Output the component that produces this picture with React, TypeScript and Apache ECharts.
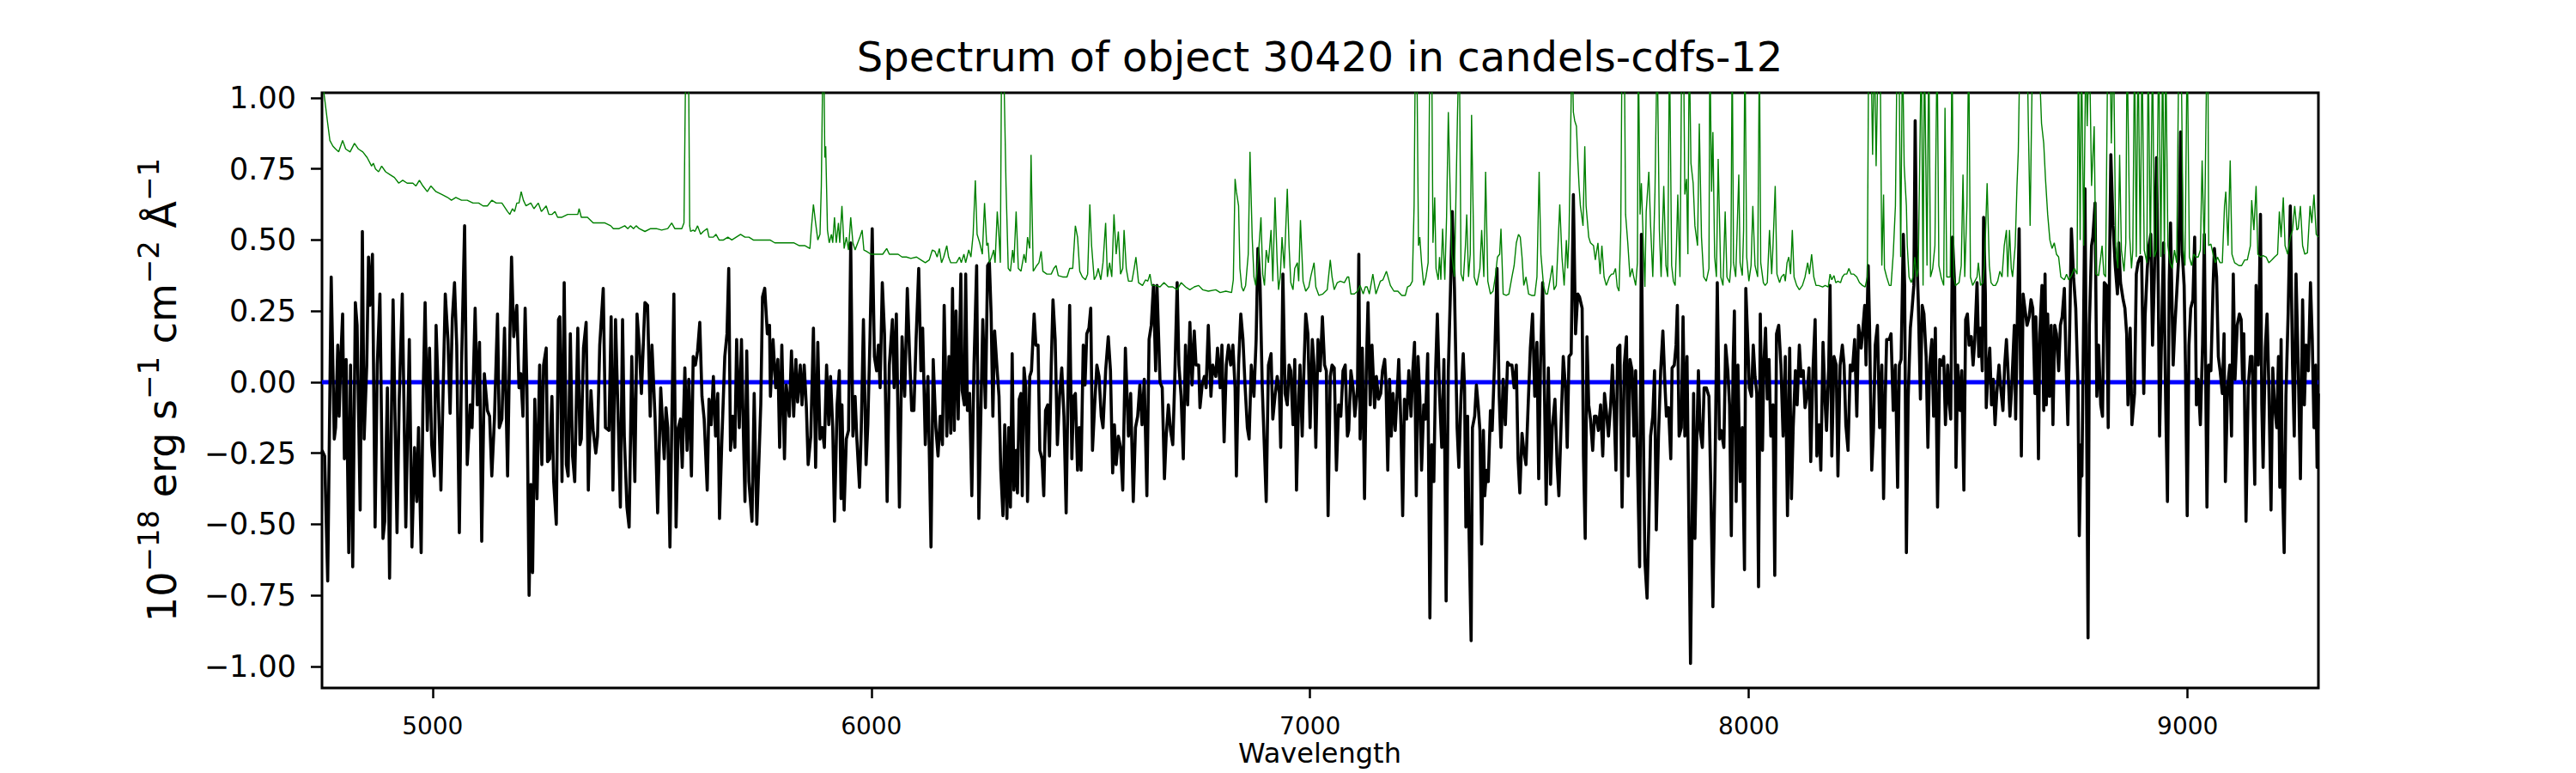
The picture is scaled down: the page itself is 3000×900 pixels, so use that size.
import React, { useEffect, useRef } from "react";
import * as echarts from "echarts";

const TITLE = "Spectrum of object 30420 in candels-cdfs-12";
const X_LABEL = "Wavelength";
const X_TICKS = [5000, 6000, 7000, 8000, 9000];
const Y_TICKS = [-1, -0.75, -0.5, -0.25, 0, 0.25, 0.5, 0.75, 1];
const X_RANGE = [4748, 9298];
const Y_RANGE = [-1.076, 1.018];
const zeroLevel = [[4748, 0], [9298, 0]];

const fluxA = [[4748,-0.24],[4754,-0.26],[4761,-0.70],[4769,0.37],[4776,-0.20],[4779,-0.16],[4784,0.13],[4787,-0.12],[4791,0.09],[4795,0.24],[4799,-0.27],[4803,0.08],[4809,-0.60],[4813,0.06],[4818,-0.65],[4824,0.28],[4828,0.20],[4835,-0.45],[4840,0.53],[4844,-0.20],[4850,0.06],[4854,0.44],[4857,0.27],[4863,0.45],[4869,-0.51],[4874,0.06],[4880,0.31],[4887,-0.55],[4891,-0.49],[4897,-0.02],[4902,-0.69],[4906,-0.15],[4910,0.29],[4915,-0.17],[4919,-0.53],[4924,-0.06],[4931,0.31],[4939,-0.51],[4947,0.15],[4953,-0.58],[4959,-0.23],[4964,-0.42],[4968,-0.16],[4974,-0.60],[4978,-0.08],[4983,0.28],[4988,-0.17],[4993,0.12],[4998,-0.22],[5004,-0.33],[5008,0.20],[5013,-0.04],[5019,-0.38],[5029,0.31],[5035,0.15],[5040,-0.11],[5045,0.22],[5050,0.35],[5055,0.13],[5061,-0.53],[5066,0.06],[5073,0.55],[5079,-0.29],[5086,-0.08],[5090,-0.16],[5097,0.26],[5102,-0.08],[5107,0.14],[5112,-0.56],[5118,0.03],[5125,-0.10],[5130,-0.12],[5135,-0.33],[5141,-0.13],[5148,0.24],[5152,-0.16],[5158,-0.13],[5164,0.19],[5171,-0.33],[5176,0.15],[5180,0.44],[5185,0.16],[5192,0.27],[5197,-0.02],[5201,0.03],[5206,-0.12],[5211,0.26],[5215,-0.02],[5220,-0.75],[5224,-0.36],[5228,-0.67],[5233,-0.06],[5238,-0.41],[5244,0.06],[5249,-0.29],[5253,0.06],[5259,0.12],[5262,-0.28],[5267,-0.27],[5272,-0.05],[5276,-0.35],[5282,-0.50],[5287,0.22],[5290,0.23],[5295,-0.35],[5300,0.35],[5305,-0.29],[5309,-0.33],[5314,0.17],[5319,-0.26],[5324,-0.35],[5331,0.19],[5336,-0.22],[5339,-0.20],[5344,0.12],[5350,0.21],[5355,-0.38],[5361,-0.03],[5366,-0.17],[5372,-0.25],[5376,-0.19],[5381,0.13],[5389,0.33],[5394,-0.16],[5402,-0.17],[5407,0.23],[5411,-0.38],[5417,0.22],[5424,-0.19],[5428,-0.44],[5433,0.22],[5437,-0.19],[5443,-0.44],[5448,-0.51],[5454,0.09],[5461,-0.35],[5466,0.24],[5471,0.13],[5476,-0.04],[5484,0.28],[5490,0.27],[5496,-0.12],[5500,0.13],[5507,-0.12],[5513,-0.46],[5520,-0.02]];

const fluxB = [[5522,-0.08],[5528,-0.27],[5532,-0.09],[5536,-0.16],[5541,-0.58],[5545,-0.17],[5550,0.31],[5555,-0.51],[5560,-0.16],[5565,-0.13],[5569,-0.30],[5575,0.05],[5580,-0.24],[5584,0.01],[5590,-0.33],[5594,0.09],[5599,0.06],[5604,0.11],[5609,0.21],[5614,-0.05],[5619,-0.13],[5626,-0.38],[5630,-0.06],[5635,-0.15],[5640,0.02],[5645,-0.19],[5650,-0.04],[5654,-0.48],[5659,-0.22],[5666,0.09],[5671,0.17],[5675,0.40],[5679,-0.24],[5684,-0.12],[5689,-0.23],[5693,0.15],[5699,-0.16],[5704,0.15],[5708,-0.15],[5712,-0.42],[5716,0.11],[5721,-0.35],[5728,-0.49],[5733,-0.04],[5739,-0.50],[5748,-0.08],[5752,0.30],[5757,0.33],[5763,0.17],[5768,0.20],[5770,-0.05],[5776,0.15],[5782,-0.02],[5787,0.08],[5791,-0.23],[5796,0.13],[5802,-0.27],[5806,-0.01],[5813,-0.12],[5818,0.11],[5823,-0.12],[5828,0.08],[5832,-0.07],[5838,0.06],[5842,-0.08],[5847,0.06],[5852,-0.09],[5856,-0.29],[5862,-0.19],[5868,0.19],[5873,-0.30],[5878,0.14],[5883,-0.20],[5888,-0.16],[5893,-0.23],[5898,0.06],[5903,-0.15],[5907,0.02],[5912,-0.16],[5916,-0.49],[5922,-0.08],[5927,0.04],[5931,-0.41],[5933,-0.08],[5938,-0.45],[5943,-0.20],[5948,-0.17],[5953,0.49],[5958,-0.19],[5963,-0.05],[5967,-0.20],[5973,-0.37],[5977,-0.17],[5982,0.22],[5988,-0.29],[5992,-0.15],[5997,0.16],[6002,0.54],[6007,0.09],[6012,0.04],[6016,0.13],[6020,-0.02],[6025,0.35],[6030,0.17],[6036,-0.42],[6041,0.06],[6048,0.22],[6052,-0.02],[6057,0.24],[6064,-0.44],[6070,0.16],[6076,-0.05],[6082,0.33],[6087,0.10],[6092,-0.10],[6097,-0.10],[6102,0.15],[6108,0.40],[6113,0.04],[6117,0.19],[6123,-0.22],[6129,0.02],[6136,-0.58],[6141,0.08],[6147,-0.16],[6152,-0.26],[6157,-0.12],[6162,-0.22],[6166,0.27],[6172,-0.19],[6177,0.09],[6181,-0.18],[6185,0.33],[6189,-0.17],[6193,0.25],[6198,-0.13],[6204,0.38],[6207,-0.03],[6212,-0.08],[6215,0.38],[6219,-0.10],[6224,-0.04],[6229,-0.40],[6234,0.06],[6240,0.41],[6245,-0.48],[6250,-0.08],[6254,0.22],[6260,-0.09],[6265,0.41],[6269,0.42],[6273,0.24],[6277,-0.12],[6281,0.18],[6286,0.06],[6291,-0.05],[6295,-0.31],[6300,-0.47],[6304,-0.15]];

const fluxC = [[6309,-0.48],[6313,-0.16],[6317,-0.44],[6321,0.10],[6325,-0.38],[6330,-0.24],[6333,-0.39],[6337,-0.06],[6341,-0.04],[6344,-0.40],[6348,0.05],[6352,-0.02],[6356,-0.42],[6361,0.02],[6365,0.04],[6371,0.24],[6375,0.13],[6380,0.13],[6384,-0.24],[6389,-0.27],[6393,-0.40],[6397,-0.10],[6402,-0.08],[6406,-0.26],[6410,0.06],[6414,0.29],[6419,0.15],[6424,-0.22],[6429,-0.05],[6434,0.05],[6439,-0.12],[6444,-0.46],[6448,-0.05],[6452,0.27],[6457,-0.27],[6461,-0.05],[6465,-0.04],[6470,-0.31],[6474,-0.16],[6478,-0.31],[6483,0.13],[6487,-0.01],[6491,0.17],[6496,0.19],[6500,0.26],[6504,-0.24],[6509,-0.08],[6514,0.06],[6519,0.02],[6524,-0.12],[6528,-0.16],[6534,0.04],[6540,0.16],[6545,0.04],[6550,-0.32],[6554,-0.15],[6558,-0.29],[6563,-0.19],[6568,-0.23],[6573,-0.38],[6579,0.12],[6586,-0.19],[6591,-0.04],[6597,-0.42],[6602,-0.16],[6607,-0.12],[6612,-0.01],[6617,-0.15],[6622,0.01],[6628,-0.40],[6633,0.15],[6638,0.20],[6643,0.34],[6648,0.04],[6651,0.34],[6658,0.00],[6663,-0.02],[6668,-0.34],[6672,-0.19],[6677,-0.08],[6682,-0.17],[6687,-0.22],[6691,-0.02],[6697,0.35],[6701,0.06],[6706,-0.05],[6711,-0.27],[6716,0.13],[6721,-0.08],[6726,0.21],[6731,-0.01],[6736,0.18],[6740,0.06],[6746,0.06],[6749,-0.09],[6754,-0.01],[6759,0.02],[6763,-0.02],[6768,0.20],[6774,-0.05],[6778,0.06],[6785,0.02],[6789,0.12],[6795,-0.02],[6799,0.13],[6804,-0.21],[6809,0.06],[6814,0.13],[6819,0.06],[6824,0.13],[6829,-0.02],[6832,-0.33],[6837,0.06],[6842,0.24],[6847,0.15],[6852,-0.02],[6857,-0.16],[6861,-0.20],[6866,0.06],[6872,-0.05],[6877,0.15],[6881,0.47],[6886,0.34],[6891,-0.02],[6896,-0.24],[6900,-0.42],[6905,0.06],[6911,0.10],[6915,-0.13],[6920,-0.05],[6925,0.02],[6930,-0.04],[6933,-0.23],[6938,0.38],[6943,-0.04],[6948,-0.08],[6952,0.06],[6956,0.04],[6961,-0.15],[6965,0.08],[6969,-0.38],[6974,-0.05],[6977,0.06],[6982,-0.19],[6986,0.05],[6990,0.24],[6995,0.17],[7000,-0.16],[7005,0.15],[7009,0.06],[7013,-0.23],[7018,0.15],[7023,0.04],[7028,0.23],[7033,0.06],[7037,0.04],[7041,-0.47],[7046,0.02],[7050,0.06],[7055,0.05],[7060,-0.31],[7065,-0.08],[7070,-0.12],[7075,0.04],[7080,0.06],[7085,-0.19]];

const fluxD = [[7088,-0.17],[7093,0.04],[7098,-0.02],[7102,-0.12],[7108,-0.02],[7111,0.45],[7114,-0.20],[7119,0.12],[7124,-0.41],[7128,0.04],[7132,0.28],[7137,-0.08],[7141,0.13],[7147,-0.09],[7151,0.02],[7156,-0.06],[7161,-0.04],[7165,0.04],[7170,0.08],[7173,-0.01],[7177,-0.31],[7181,0.01],[7185,-0.19],[7189,-0.04],[7194,-0.17],[7198,-0.05],[7202,0.08],[7207,-0.15],[7211,-0.47],[7215,-0.06],[7220,-0.13],[7225,0.04],[7230,-0.12],[7234,0.04],[7238,0.14],[7242,-0.40],[7246,0.09],[7250,-0.05],[7254,-0.31],[7259,-0.08],[7263,-0.13],[7268,0.10],[7273,-0.83],[7277,-0.22],[7282,-0.35],[7286,0.04],[7290,0.24],[7295,-0.04],[7300,-0.23],[7305,0.08],[7310,-0.77],[7315,0.04],[7320,0.33],[7324,0.60],[7329,0.33],[7335,-0.16],[7339,-0.30],[7344,-0.05],[7349,0.10],[7352,-0.02],[7355,-0.51],[7359,-0.12],[7362,-0.51],[7367,-0.91],[7370,-0.16],[7375,-0.12],[7379,-0.01],[7383,-0.08],[7387,-0.17],[7391,-0.57],[7395,-0.17],[7398,-0.40],[7402,-0.31],[7406,-0.35],[7411,-0.10],[7415,-0.17],[7421,0.10],[7426,0.40],[7431,-0.05],[7435,-0.23],[7440,0.01],[7445,-0.15],[7450,0.07],[7455,0.06],[7460,0.06],[7465,-0.02],[7470,0.06],[7474,-0.27],[7478,-0.39],[7483,-0.18],[7487,-0.24],[7492,-0.29],[7497,-0.08],[7502,0.12],[7507,0.24],[7512,-0.05],[7517,0.14],[7521,-0.34],[7525,0.06],[7530,0.35],[7534,-0.02],[7538,-0.43],[7543,0.05],[7548,-0.36],[7552,-0.16],[7558,-0.06],[7563,-0.29],[7567,-0.40],[7572,-0.15],[7577,0.09],[7582,-0.02],[7586,-0.23],[7590,0.09],[7595,0.10],[7600,0.66],[7605,0.17],[7610,0.31],[7614,0.30],[7620,0.26],[7623,-0.26],[7627,-0.55],[7631,0.16],[7635,-0.08],[7639,-0.13],[7644,-0.24],[7648,-0.12],[7652,-0.12],[7657,-0.17],[7662,-0.08],[7667,-0.26],[7671,-0.04],[7675,-0.10],[7680,-0.19],[7685,-0.08],[7689,0.06],[7693,-0.10],[7697,-0.31],[7701,0.12],[7706,0.13],[7711,-0.44],[7716,0.06],[7721,0.16],[7725,-0.33],[7729,0.08],[7734,0.04],[7738,-0.19],[7742,0.04],[7747,-0.35],[7751,-0.65],[7755,0.52],[7759,-0.10],[7763,-0.63],[7768,-0.76],[7772,-0.49],[7776,-0.19],[7781,-0.12],[7785,0.04],[7789,-0.52],[7794,-0.19],[7799,0.04],[7804,0.18],[7809,-0.02],[7812,-0.12],[7817,-0.09],[7822,-0.27],[7825,0.05],[7830,0.06],[7834,0.13],[7837,0.27],[7841,-0.19],[7846,-0.16],[7850,0.23],[7854,-0.19],[7859,0.09],[7867,-0.99]];

const fluxE = [[7874,-0.04],[7877,-0.55],[7881,-0.22],[7885,0.04],[7889,-0.17],[7894,-0.23],[7898,-0.02],[7903,-0.02],[7909,-0.05],[7913,-0.35],[7918,-0.79],[7923,-0.29],[7928,0.35],[7933,-0.20],[7937,-0.17],[7943,-0.23],[7947,0.13],[7952,0.04],[7956,-0.08],[7960,-0.54],[7964,0.06],[7967,0.25],[7971,-0.42],[7975,0.06],[7980,-0.35],[7985,-0.16],[7990,-0.66],[7993,0.33],[7998,0.12],[8001,-0.02],[8006,-0.05],[8010,0.13],[8014,0.02],[8018,-0.04],[8022,-0.72],[8026,0.24],[8031,-0.24],[8034,0.06],[8038,0.19],[8042,-0.06],[8046,0.08],[8050,-0.19],[8055,-0.08],[8059,-0.68],[8063,0.17],[8068,0.20],[8073,0.06],[8078,-0.19],[8083,0.09],[8088,-0.47],[8093,0.12],[8097,-0.41],[8101,-0.16],[8106,0.04],[8110,-0.08],[8115,0.13],[8119,0.02],[8124,0.04],[8128,-0.09],[8133,-0.04],[8137,0.05],[8141,-0.28],[8146,0.04],[8151,0.22],[8155,-0.26],[8160,-0.15],[8164,-0.31],[8169,0.14],[8174,-0.08],[8177,-0.17],[8182,0.06],[8185,0.34],[8189,-0.26],[8194,0.09],[8199,0.06],[8203,-0.33],[8208,0.06],[8213,0.13],[8217,0.06],[8221,-0.15],[8226,-0.24],[8231,0.06],[8236,0.04],[8241,0.15],[8246,-0.12],[8250,0.20],[8256,0.12],[8260,0.19],[8264,0.27],[8267,0.06],[8272,0.41],[8275,0.20],[8280,-0.31],[8284,-0.17],[8288,0.13],[8293,0.20],[8298,-0.16],[8303,0.06],[8307,-0.41],[8311,-0.04],[8314,0.15],[8320,0.15],[8324,0.17],[8329,-0.10],[8334,0.06],[8339,-0.37],[8343,0.06],[8347,0.08],[8352,0.52],[8355,0.34],[8359,-0.60],[8363,-0.06],[8368,0.19],[8372,0.26],[8376,0.34],[8379,0.92],[8382,0.48],[8386,0.29],[8391,-0.06],[8395,0.27],[8399,0.24],[8404,0.09],[8408,-0.23],[8412,0.06],[8417,0.15],[8421,-0.12],[8425,0.19],[8430,-0.44],[8435,0.08],[8440,0.06],[8444,0.09],[8448,-0.15],[8453,0.06],[8457,-0.08],[8460,-0.13],[8464,0.51],[8469,0.34],[8472,-0.30],[8476,0.06],[8481,-0.10],[8485,0.04],[8490,-0.38],[8494,0.22],[8498,0.24],[8502,0.13],[8507,0.16],[8511,0.06],[8515,0.15],[8520,0.35],[8524,0.09],[8528,0.19],[8532,0.04],[8535,0.58],[8539,0.31],[8541,-0.09],[8546,0.06],[8549,0.12],[8553,-0.08],[8557,0.01],[8561,-0.15],[8565,-0.04],[8570,0.06],[8574,-0.02],[8579,-0.10],[8583,0.06],[8587,0.15],[8590,0.06],[8595,-0.12],[8599,-0.02],[8605,0.20],[8608,-0.13],[8612,0.23],[8616,0.54],[8621,-0.26],[8625,0.31],[8629,0.26],[8634,0.20],[8639,0.23],[8643,0.29],[8647,0.26],[8652,-0.04]];

const fluxF = [[8654,0.23],[8657,0.06],[8660,-0.27],[8663,0.17],[8668,0.34],[8672,-0.10],[8675,0.38],[8678,-0.08],[8681,0.24],[8685,-0.05],[8689,0.20],[8693,-0.15],[8697,0.20],[8701,0.17],[8706,0.04],[8710,0.20],[8714,0.23],[8719,0.33],[8723,0.06],[8727,-0.15],[8732,0.26],[8735,0.54],[8740,0.37],[8745,0.26],[8750,-0.01],[8753,-0.54],[8757,-0.22],[8759,-0.33],[8763,0.23],[8766,0.68],[8770,-0.19],[8773,-0.90],[8776,0.20],[8781,0.48],[8784,0.51],[8789,0.63],[8793,-0.05],[8797,0.13],[8802,-0.08],[8806,-0.12],[8810,0.35],[8815,0.34],[8819,-0.16],[8822,0.41],[8825,0.80],[8830,0.55],[8835,0.41],[8840,0.31],[8843,0.49],[8847,0.35],[8853,0.29],[8857,0.26],[8861,0.17],[8864,-0.08],[8869,0.19],[8873,-0.15],[8879,-0.04],[8883,0.38],[8887,0.42],[8892,0.44],[8895,0.44],[8900,-0.04],[8903,0.23],[8908,0.40],[8912,0.48],[8916,0.52],[8920,0.13],[8924,0.37],[8929,0.79],[8933,0.34],[8936,-0.19],[8941,0.20],[8945,0.49],[8950,-0.08],[8954,-0.42],[8958,0.35],[8961,0.56],[8967,0.06],[8971,0.20],[8975,0.31],[8980,0.45],[8984,0.88],[8988,0.45],[8992,0.34],[8995,0.06],[8999,-0.47],[9003,0.13],[9007,0.26],[9012,0.29],[9016,0.51],[9020,-0.08],[9024,0.01],[9029,-0.15],[9034,0.13],[9038,0.52],[9044,-0.44],[9048,0.06],[9053,0.04],[9058,0.34],[9061,0.47],[9066,0.37],[9070,0.09],[9074,0.04],[9079,-0.04],[9083,0.17],[9086,-0.35],[9091,-0.02],[9096,0.06],[9100,-0.19],[9104,0.38],[9108,0.01],[9113,0.20],[9118,0.24],[9122,0.22],[9125,0.01],[9128,0.17],[9133,-0.49],[9138,-0.02],[9143,0.09],[9147,0.09],[9153,-0.36],[9156,0.34],[9161,0.06],[9166,0.59],[9169,-0.08],[9172,-0.30],[9177,0.12],[9181,0.24],[9185,-0.01],[9190,-0.45],[9194,0.05],[9198,-0.08],[9203,-0.16],[9207,0.09],[9210,-0.37],[9213,0.15],[9216,-0.35],[9220,-0.60],[9224,-0.05],[9229,0.24],[9234,0.62],[9239,0.06],[9243,-0.19],[9247,0.38],[9252,0.06],[9257,-0.34],[9262,0.29],[9266,-0.08],[9270,0.13],[9275,0.04],[9280,0.35],[9284,0.15],[9288,-0.16],[9292,0.06],[9295,-0.30],[9298,-0.04]];

const errA = [[4748,1.10],[4753,1.01],[4761,0.91],[4766,0.85],[4773,0.83],[4779,0.82],[4786,0.81],[4795,0.85],[4802,0.82],[4812,0.81],[4822,0.84],[4831,0.82],[4841,0.81],[4851,0.79],[4861,0.76],[4865,0.77],[4870,0.75],[4877,0.74],[4884,0.76],[4893,0.74],[4903,0.73],[4913,0.72],[4923,0.70],[4932,0.71],[4942,0.70],[4955,0.70],[4962,0.69],[4970,0.71],[4978,0.69],[4988,0.67],[4996,0.69],[5008,0.67],[5021,0.66],[5034,0.65],[5043,0.64],[5053,0.65],[5066,0.64],[5079,0.64],[5092,0.63],[5105,0.63],[5115,0.62],[5125,0.62],[5135,0.64],[5145,0.63],[5158,0.63],[5171,0.60],[5176,0.59],[5182,0.61],[5187,0.60],[5192,0.63],[5197,0.63],[5202,0.67],[5207,0.64],[5213,0.62],[5224,0.63],[5231,0.61],[5241,0.63],[5248,0.60],[5259,0.62],[5265,0.59],[5272,0.59],[5279,0.60],[5285,0.58],[5295,0.58],[5308,0.59],[5321,0.59],[5331,0.59],[5334,0.61],[5339,0.58],[5353,0.58],[5366,0.56],[5379,0.56],[5393,0.56],[5406,0.55],[5412,0.54],[5425,0.54],[5438,0.55],[5445,0.54],[5451,0.55],[5458,0.54],[5464,0.55],[5471,0.54],[5484,0.53],[5497,0.54],[5510,0.54]];

const errB = [[5522,0.535],[5536,0.54],[5545,0.56],[5552,0.54],[5568,0.54],[5573,0.56],[5576,1.0],[5580,1.3],[5584,1.0],[5586,0.55],[5588,0.53],[5594,0.535],[5598,0.53],[5604,0.55],[5611,0.52],[5617,0.53],[5626,0.54],[5630,0.51],[5640,0.51],[5646,0.52],[5653,0.50],[5663,0.50],[5673,0.51],[5682,0.50],[5692,0.51],[5702,0.52],[5712,0.51],[5721,0.51],[5731,0.50],[5744,0.50],[5757,0.50],[5769,0.50],[5780,0.49],[5796,0.49],[5809,0.49],[5823,0.49],[5836,0.48],[5849,0.48],[5860,0.47],[5863,0.535],[5868,0.625],[5873,0.56],[5878,0.50],[5883,0.52],[5886,0.69],[5890,1.2],[5892,1.1],[5894,0.79],[5896,0.83],[5900,0.535],[5904,0.49],[5909,0.52],[5912,0.49],[5916,0.58],[5920,0.49],[5925,0.56],[5928,0.49],[5933,0.62],[5938,0.47],[5943,0.51],[5948,0.465],[5953,0.58],[5958,0.49],[5963,0.465],[5969,0.49],[5974,0.51],[5979,0.535],[5983,0.465],[5989,0.46],[5999,0.45],[6008,0.45],[6018,0.45],[6026,0.45],[6035,0.47],[6041,0.45],[6051,0.45],[6061,0.45],[6070,0.44],[6080,0.44],[6090,0.435],[6103,0.44],[6113,0.43],[6123,0.42],[6132,0.43],[6139,0.465],[6145,0.46],[6150,0.44],[6155,0.47],[6160,0.42],[6165,0.44],[6172,0.48],[6176,0.44],[6181,0.42],[6188,0.42],[6194,0.42],[6201,0.44],[6205,0.42],[6211,0.45],[6215,0.42],[6222,0.465],[6227,0.44],[6232,0.52],[6237,0.71],[6241,0.52],[6247,0.49],[6253,0.45],[6258,0.63],[6263,0.48],[6266,0.49],[6269,0.42],[6274,0.44],[6279,0.465],[6282,0.42],[6287,0.60],[6291,0.51],[6294,0.42],[6297,1.2],[6302,1.1]];

const errC = [[6307,0.69],[6312,0.40],[6317,0.39],[6322,0.465],[6325,0.42],[6330,0.60],[6335,0.40],[6341,0.39],[6348,0.45],[6352,0.42],[6356,0.51],[6361,0.47],[6364,0.80],[6369,0.39],[6377,0.41],[6382,0.42],[6387,0.46],[6391,0.39],[6400,0.38],[6410,0.38],[6416,0.40],[6421,0.41],[6426,0.375],[6436,0.37],[6446,0.37],[6452,0.40],[6459,0.40],[6465,0.55],[6470,0.51],[6475,0.39],[6481,0.37],[6488,0.36],[6493,0.38],[6498,0.625],[6502,0.48],[6508,0.36],[6513,0.375],[6517,0.40],[6523,0.36],[6528,0.42],[6534,0.56],[6538,0.37],[6543,0.42],[6548,0.37],[6553,0.59],[6558,0.45],[6563,0.53],[6568,0.38],[6573,0.40],[6576,0.535],[6581,0.40],[6586,0.355],[6594,0.355],[6599,0.40],[6603,0.44],[6609,0.35],[6618,0.34],[6625,0.36],[6630,0.355],[6635,0.38],[6639,0.34],[6648,0.34],[6658,0.335],[6667,0.35],[6677,0.335],[6687,0.335],[6697,0.325],[6706,0.35],[6716,0.335],[6726,0.325],[6736,0.335],[6746,0.34],[6755,0.325],[6768,0.32],[6785,0.325],[6795,0.315],[6808,0.32],[6821,0.315],[6825,0.36],[6829,0.715],[6832,0.67],[6837,0.62],[6840,0.40],[6844,0.335],[6848,0.32],[6853,0.34],[6859,0.45],[6863,0.81],[6868,0.51],[6872,0.37],[6876,0.34],[6881,0.42],[6888,0.58],[6892,0.38],[6896,0.34],[6900,0.465],[6905,0.42],[6911,0.535],[6915,0.355],[6920,0.65],[6925,0.42],[6928,0.325],[6932,0.37],[6936,0.51],[6941,0.40],[6948,0.68],[6952,0.48],[6956,0.35],[6961,0.325],[6965,0.40],[6971,0.42],[6974,0.355],[6978,0.57],[6984,0.355],[6990,0.32],[6997,0.335],[7002,0.375],[7009,0.42],[7013,0.335],[7020,0.305],[7029,0.31],[7039,0.325],[7046,0.43],[7050,0.37],[7055,0.325],[7062,0.35],[7069,0.355],[7078,0.35],[7085,0.37]];

const errD = [[7088,0.37],[7093,0.31],[7101,0.31],[7108,0.32],[7114,0.34],[7121,0.31],[7126,0.335],[7130,0.335],[7135,0.31],[7143,0.38],[7150,0.31],[7160,0.355],[7166,0.36],[7174,0.39],[7183,0.34],[7191,0.32],[7200,0.32],[7209,0.305],[7217,0.305],[7222,0.335],[7228,0.34],[7233,0.355],[7237,0.62],[7240,1.2],[7243,1.2],[7247,0.48],[7250,0.51],[7254,0.42],[7259,0.34],[7264,0.37],[7269,0.42],[7273,1.2],[7277,1.2],[7280,0.49],[7284,0.65],[7287,0.40],[7292,0.36],[7295,0.44],[7298,0.36],[7302,0.54],[7307,0.36],[7311,0.58],[7315,0.95],[7320,0.62],[7323,0.45],[7329,0.37],[7336,0.95],[7340,1.2],[7344,0.38],[7349,0.355],[7354,0.48],[7357,0.59],[7361,0.37],[7365,0.45],[7368,0.94],[7374,0.37],[7380,0.34],[7387,0.40],[7391,0.535],[7396,0.37],[7400,0.74],[7405,0.355],[7411,0.31],[7417,0.32],[7422,0.37],[7427,0.44],[7432,0.45],[7435,0.54],[7440,0.31],[7447,0.305],[7453,0.31],[7460,0.37],[7465,0.41],[7470,0.49],[7475,0.52],[7479,0.51],[7483,0.44],[7487,0.34],[7492,0.37],[7498,0.31],[7505,0.305],[7512,0.305],[7517,0.37],[7522,0.74],[7526,0.45],[7532,0.34],[7537,0.31],[7541,0.31],[7548,0.37],[7552,0.41],[7556,0.325],[7561,0.34],[7565,0.48],[7569,0.625],[7574,0.44],[7579,0.34],[7584,0.50],[7587,0.40],[7590,0.51],[7594,0.90],[7597,1.2],[7600,0.95],[7603,0.92],[7607,0.90],[7610,0.785],[7613,0.69],[7616,0.62],[7622,0.55],[7626,0.83],[7629,0.62],[7635,0.51],[7639,0.49],[7646,0.48],[7650,0.43],[7656,0.49],[7661,0.38],[7665,0.48],[7670,0.37],[7675,0.34],[7682,0.37],[7687,0.38],[7691,0.38],[7696,0.40],[7700,0.335],[7704,0.32],[7708,0.535],[7711,1.2],[7716,1.2],[7719,0.59],[7724,0.49],[7729,0.37],[7734,0.40],[7737,0.375],[7742,0.34],[7746,0.42],[7748,1.2],[7752,0.59],[7755,0.70],[7759,0.51],[7763,0.335],[7766,0.60],[7772,0.74],[7776,0.55],[7781,0.37],[7786,0.67],[7791,1.2],[7796,0.535],[7800,0.37],[7806,0.69],[7811,0.41],[7815,0.37],[7819,1.2],[7824,0.41],[7828,0.355],[7832,0.34],[7835,0.48],[7838,0.66],[7843,0.37],[7847,1.2],[7851,1.2],[7854,0.66],[7858,0.715],[7861,0.45],[7864,1.2],[7868,0.77]];

const errE = [[7873,0.70],[7877,0.55],[7883,0.48],[7887,0.91],[7892,0.51],[7897,0.37],[7903,0.355],[7909,0.40],[7911,1.2],[7915,0.67],[7918,0.88],[7922,0.44],[7926,0.37],[7930,0.785],[7933,0.58],[7936,0.37],[7941,0.34],[7946,0.60],[7950,0.37],[7956,0.35],[7959,0.41],[7962,1.2],[7965,0.42],[7970,0.37],[7977,0.73],[7980,0.42],[7985,0.375],[7988,0.535],[7991,1.2],[7995,0.44],[8000,0.355],[8005,0.41],[8009,0.62],[8014,0.41],[8020,0.37],[8024,1.2],[8027,0.42],[8033,0.35],[8037,0.34],[8042,0.35],[8047,0.535],[8052,0.38],[8055,0.48],[8060,0.69],[8064,0.38],[8070,0.35],[8074,0.37],[8080,0.38],[8083,0.355],[8087,0.42],[8091,0.44],[8095,0.38],[8099,0.535],[8103,0.37],[8109,0.34],[8115,0.325],[8122,0.34],[8128,0.37],[8134,0.42],[8138,0.38],[8143,0.45],[8148,0.37],[8153,0.34],[8159,0.34],[8168,0.335],[8174,0.34],[8181,0.335],[8185,0.38],[8189,0.36],[8194,0.375],[8198,0.35],[8203,0.355],[8209,0.35],[8213,0.37],[8218,0.38],[8223,0.38],[8228,0.40],[8233,0.38],[8239,0.38],[8246,0.37],[8252,0.35],[8259,0.34],[8265,0.335],[8270,0.37],[8273,1.2],[8278,1.2],[8282,0.80],[8286,1.2],[8290,0.76],[8295,1.2],[8299,1.2],[8303,0.41],[8307,0.66],[8309,0.40],[8314,0.37],[8320,0.34],[8324,0.34],[8329,0.45],[8334,0.62],[8338,1.2],[8342,1.2],[8346,0.44],[8350,1.2],[8354,0.76],[8359,0.62],[8361,0.48],[8365,0.37],[8370,0.35],[8374,0.37],[8378,0.44],[8383,0.37],[8386,0.40],[8389,0.73],[8393,1.2],[8397,0.34],[8400,1.2],[8406,0.41],[8410,1.2],[8414,0.37],[8419,0.40],[8424,0.48],[8429,1.2],[8433,0.41],[8438,0.37],[8444,0.34],[8447,0.965],[8451,0.37],[8459,0.37],[8463,1.2],[8467,0.37],[8471,0.34],[8479,0.35],[8484,0.41],[8488,0.73],[8492,0.37],[8497,0.62],[8501,1.2],[8505,0.37],[8510,0.34],[8515,0.355],[8520,0.37],[8523,0.42],[8528,0.34],[8533,0.35],[8537,0.41],[8543,0.70],[8548,0.41],[8552,0.35],[8557,0.34],[8562,0.34],[8567,0.355],[8572,0.39],[8577,0.37],[8582,0.48],[8587,0.535],[8590,0.37],[8594,0.535],[8598,0.40],[8601,0.37],[8607,0.48],[8611,0.69],[8614,0.81],[8618,1.2],[8634,1.2],[8637,0.90],[8641,0.55],[8644,0.90],[8647,1.2],[8652,1.2]];

const errF = [[8660,1.2],[8667,0.91],[8672,0.84],[8676,0.715],[8681,0.59],[8686,0.50],[8691,0.47],[8696,0.49],[8701,0.45],[8706,0.44],[8711,0.37],[8719,0.36],[8724,0.38],[8729,0.36],[8735,0.375],[8742,0.40],[8748,0.38],[8751,1.2],[8755,0.5],[8758,1.2],[8763,0.48],[8768,1.2],[8771,0.90],[8776,1.2],[8781,0.69],[8787,0.90],[8791,0.38],[8797,0.375],[8805,0.48],[8809,0.38],[8813,0.37],[8818,1.2],[8823,1.2],[8826,0.84],[8831,1.2],[8836,0.48],[8841,0.40],[8845,0.80],[8849,0.465],[8855,0.39],[8859,0.49],[8862,1.2],[8868,0.51],[8872,0.40],[8875,0.465],[8879,1.2],[8883,0.44],[8887,1.2],[8892,0.45],[8896,1.2],[8901,0.465],[8907,0.42],[8910,1.2],[8915,0.44],[8920,1.2],[8924,0.44],[8929,0.465],[8934,1.2],[8939,0.44],[8943,1.2],[8947,0.45],[8950,1.2],[8955,0.48],[8960,0.42],[8965,0.40],[8970,0.465],[8975,0.42],[8980,1.2],[8985,1.2],[8990,0.465],[8994,0.41],[8999,1.2],[9004,0.44],[9009,0.41],[9014,0.45],[9019,0.44],[9024,0.44],[9029,0.465],[9033,0.78],[9038,0.45],[9044,1.2],[9046,1.2],[9048,0.48],[9053,0.486],[9058,0.45],[9063,0.42],[9068,0.44],[9074,0.42],[9079,0.42],[9084,0.62],[9087,0.67],[9092,0.48],[9097,0.78],[9101,0.45],[9107,0.42],[9117,0.41],[9123,0.41],[9130,0.43],[9136,0.43],[9143,0.48],[9146,0.64],[9151,0.535],[9156,0.69],[9160,0.45],[9166,0.44],[9172,0.445],[9179,0.44],[9185,0.42],[9192,0.43],[9198,0.44],[9205,0.45],[9209,0.60],[9213,0.51],[9218,0.65],[9222,0.48],[9228,0.45],[9234,0.51],[9239,0.535],[9244,0.62],[9249,0.535],[9252,0.54],[9257,0.62],[9262,0.48],[9267,0.45],[9273,0.455],[9279,0.62],[9283,0.56],[9288,0.66],[9293,0.52],[9298,0.51]];

const FONT = "DejaVu Sans";

function fmtY(v: number): string {
  const s = Math.abs(v).toFixed(2);
  return v < 0 ? "\u2212" + s : s;
}

export default function App() {
  const ref = useRef<HTMLDivElement>(null);
  useEffect(() => {
    if (!ref.current) return;
    const chart = echarts.init(ref.current, null, { renderer: "svg" });
    const flux = [...fluxA, ...fluxB, ...fluxC, ...fluxD, ...fluxE, ...fluxF];
    const err = [...errA, ...errB, ...errC, ...errD, ...errE, ...errF];
    chart.setOption({
      animation: false,
      backgroundColor: "#ffffff",
      textStyle: { fontFamily: FONT },
      grid: {
        left: 375, right: 300, top: 108, bottom: 99,
        show: true, borderColor: "#000", borderWidth: 3, backgroundColor: "transparent",
      },
      xAxis: {
        type: "value", min: X_RANGE[0], max: X_RANGE[1],
        axisLine: { show: false, onZero: false },
        splitLine: { show: false },
        axisTick: { show: true, length: 12, lineStyle: { color: "#000", width: 2.5 }, customValues: X_TICKS },
        axisLabel: { customValues: X_TICKS, fontSize: 28, lineHeight: 26, color: "#000", fontFamily: FONT, margin: 31, formatter: (v: number) => String(v) },
      },
      yAxis: {
        type: "value", min: Y_RANGE[0], max: Y_RANGE[1],
        axisLine: { show: false, onZero: false },
        splitLine: { show: false },
        axisTick: { show: true, length: 13, lineStyle: { color: "#000", width: 2.5 }, customValues: Y_TICKS },
        axisLabel: { customValues: Y_TICKS, fontSize: 35, color: "#000", fontFamily: FONT, margin: 30, formatter: (v: number) => fmtY(v) },
      },
      series: [
        { type: "line", data: zeroLevel, symbol: "none", silent: true, z: 1, lineStyle: { color: "#0000ff", width: 5 } },
        { type: "line", data: flux, symbol: "none", silent: true, z: 2, lineStyle: { color: "#000000", width: 3.6, join: "round" } },
        { type: "line", data: err, symbol: "none", silent: true, z: 3, lineStyle: { color: "#008000", width: 1.4 } },
      ],
      graphic: [
        {
          type: "text", x: 1537, y: 66, silent: true,
          style: { text: TITLE, fontSize: 48, fontFamily: FONT, fill: "#000", align: "center", verticalAlign: "middle" },
        },
        {
          type: "text", x: 1537, y: 877, silent: true,
          style: { text: X_LABEL, fontSize: 32, lineHeight: 28, fontFamily: FONT, fill: "#000", align: "center", verticalAlign: "middle" },
        },
        {
          type: "text", x: 212, y: 454, rotation: Math.PI / 2, silent: true,
          style: {
            text: "{m|10}{s|\u221218}{m| erg s}{s|\u22121}{m| cm}{s|\u22122}{m| \u00c5}{s|\u22121}",
            fill: "#000", fontFamily: FONT, align: "center", verticalAlign: "bottom",
            rich: {
              m: { fontSize: 46, fontFamily: FONT, lineHeight: 56, verticalAlign: "bottom", fill: "#000" },
              s: { fontSize: 34, fontFamily: FONT, lineHeight: 30, verticalAlign: "top", fill: "#000" },
            },
          },
        },
      ],
    });
    return () => chart.dispose();
  }, []);
  return (
    <div
      ref={ref}
      style={{ position: "fixed", left: 0, top: 0, width: 3000, height: 900, background: "#fff" }}
    />
  );
}
